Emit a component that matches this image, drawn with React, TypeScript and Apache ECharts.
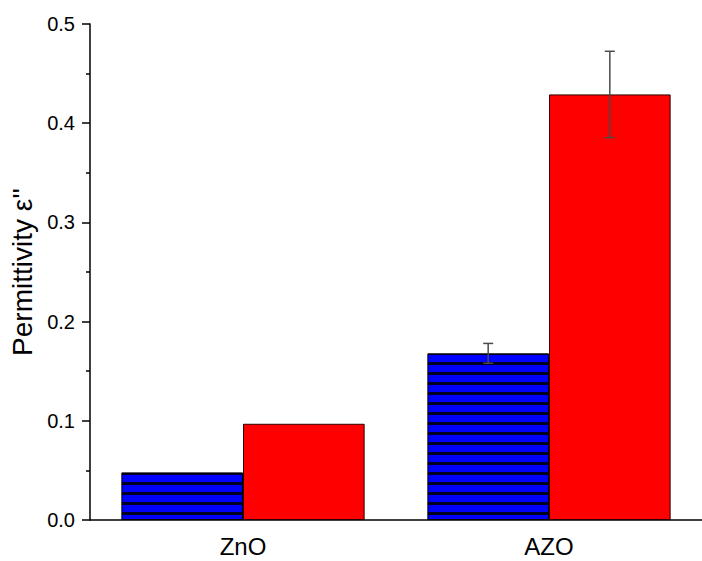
import React, { useEffect, useRef } from "react";
import * as echarts from "echarts";

const categories = ["ZnO", "AZO"];
const blueValues = [0.048, 0.168];
const redValues = [0.097, 0.429];
const blueErrors = [0, 0.01];
const redErrors = [0, 0.0435];
const yMin = 0;
const yMax = 0.5;
const yInterval = 0.1;

const BAR_FRACTION = 0.3975;
const FONT = "'Liberation Sans', Arial, sans-serif";

function makeStripePattern() {
  const c = document.createElement("canvas");
  c.width = 10;
  c.height = 10;
  const ctx = c.getContext("2d")!;
  ctx.fillStyle = "#0000ff";
  ctx.fillRect(0, 0, 10, 10);
  ctx.fillStyle = "#000022";
  ctx.fillRect(0, 2, 10, 3);
  return { image: c.toDataURL(), repeat: "repeat", imageWidth: 10, imageHeight: 10 } as any;
}

export default function App() {
  const ref = useRef<HTMLDivElement>(null);
  useEffect(() => {
    if (!ref.current) return;
    const chart = echarts.init(ref.current, undefined, { renderer: "svg" });
    const pattern = makeStripePattern();

    const errorRender = (side: number) => (params: any, api: any) => {
      const idx = api.value(0);
      const v = api.value(1);
      const e = api.value(2);
      if (!e) return null;
      const band = api.size([1, 0])[0];
      const barW = band * BAR_FRACTION;
      const c = api.coord([idx, v]);
      const x = c[0] + (side * barW) / 2;
      const top = api.coord([idx, v + e])[1];
      const bot = api.coord([idx, v - e])[1];
      const style = { stroke: "#4a4a4a", lineWidth: 1.5 };
      return {
        type: "group",
        children: [
          { type: "line", shape: { x1: x, y1: top, x2: x, y2: bot }, style },
          { type: "line", shape: { x1: x - 5, y1: top, x2: x + 5, y2: top }, style },
          { type: "line", shape: { x1: x - 5, y1: bot, x2: x + 5, y2: bot }, style },
        ],
      };
    };

    chart.setOption({
      animation: false,
      backgroundColor: "#ffffff",
      textStyle: { fontFamily: FONT },
      grid: { left: 88.5, right: -5, top: 24, bottom: 41 },
      xAxis: {
        type: "category",
        data: categories,
        boundaryGap: true,
        axisLine: { lineStyle: { color: "#000", width: 1.5 } },
        axisTick: { alignWithLabel: true, length: 8, lineStyle: { color: "#000", width: 1.5 } },
        axisLabel: { fontSize: 24, color: "#000", fontFamily: FONT, margin: 14 },
        splitLine: { show: false },
      },
      yAxis: {
        type: "value",
        min: yMin,
        max: yMax,
        interval: yInterval,
        name: "Permittivity ε''",
        nameLocation: "middle",
        nameGap: 54,
        nameTextStyle: { fontSize: 28, color: "#000", fontFamily: FONT },
        axisLine: { show: true, lineStyle: { color: "#000", width: 1.5 } },
        axisTick: { show: true, length: 8, lineStyle: { color: "#000", width: 1.5 } },
        minorTick: { show: true, splitNumber: 2, length: 4, lineStyle: { color: "#000", width: 1.5 } },
        axisLabel: {
          fontSize: 20,
          color: "#000",
          fontFamily: FONT,
          margin: 15,
          formatter: (v: number) => v.toFixed(1),
        },
        splitLine: { show: false },
      },
      series: [
        {
          type: "bar",
          data: blueValues,
          barWidth: BAR_FRACTION * 100 + "%",
          barGap: "0%",
          itemStyle: { color: pattern, borderColor: "#000", borderWidth: 1 },
        },
        {
          type: "bar",
          data: redValues,
          barWidth: BAR_FRACTION * 100 + "%",
          barGap: "0%",
          itemStyle: { color: "#ff0000", borderColor: "#2a0000", borderWidth: 1 },
        },
        {
          type: "custom",
          z: 10,
          renderItem: errorRender(-1),
          data: categories.map((c, i) => [i, blueValues[i], blueErrors[i]]),
        },
        {
          type: "custom",
          z: 10,
          renderItem: errorRender(1),
          data: categories.map((c, i) => [i, redValues[i], redErrors[i]]),
        },
      ],
    });
    return () => chart.dispose();
  }, []);
  return (
    <div
      ref={ref}
      style={{ position: "absolute", left: 0, top: 0, width: 702, height: 561, overflow: "hidden" }}
    />
  );
}
